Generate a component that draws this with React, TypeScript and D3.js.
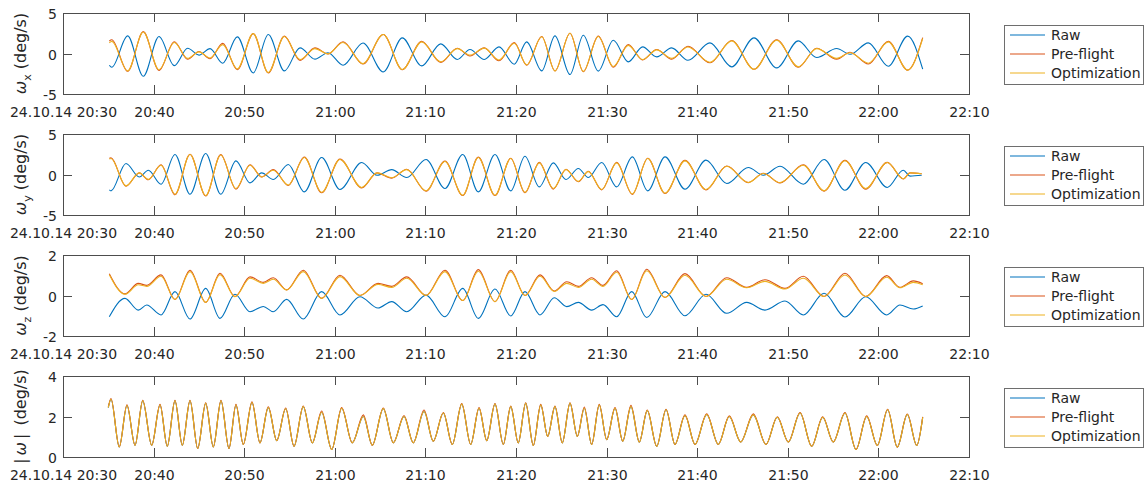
import React from 'react';
import * as d3 from 'd3';

// ---- time axis (minutes after 24.10.14 20:30) ----
const BASE = new Date(2014, 9, 24, 20, 30);
const toDate = (m: number) => new Date(BASE.getTime() + m * 60000);
const TICK_MINUTES = [0, 10, 20, 30, 40, 50, 60, 70, 80, 90, 100];
const FIRST_TICK_LABEL = '24.10.14 20:30';

const SERIES_NAMES = ['Raw', 'Pre-flight', 'Optimization'];
const SERIES_COLORS = ['#0072BD', '#D95319', '#EDB120'];

// ---- omega_x (extrema) ----
const WX_T = [5.11,5.38,7.14,8.86,10.60,12.28,13.76,15.01,16.23,17.63,19.24,21.00,22.66,24.43,26.16,27.81,29.25,30.91,33.11,35.35,37.45,39.59,41.69,43.52,44.92,46.50,48.12,49.81,51.18,52.84,54.30,55.96,57.43,59.08,60.74,62.39,63.98,65.53,67.18,68.98,71.41,73.81,76.27,78.77,81.16,83.19,85.40,86.87,88.89,91.09,93.23,94.89];
const WX_RAW = [-1.45,-1.7,2.17,-2.8,2.1,-1.5,0.65,-0.2,0.6,-1.2,2.05,-2.4,2.35,-2.15,0.7,-0.7,0.1,-1.45,1.3,-2.27,1.93,-1.53,1.19,-0.74,0.49,-0.74,0.82,-1.32,1.43,-2.15,2.17,-2.6,2.26,-2.18,1.64,-1.03,0.82,-0.42,0.7,-0.83,1.31,-1.65,1.93,-1.78,1.56,-0.5,0.62,-0.1,1.31,-1.57,2.14,-1.94];
const WX_PRE = [1.55,1.7,-2.2,2.7,-2.1,1.45,-0.7,0.25,-0.65,1.25,-2.0,2.45,-2.4,2.15,-0.85,0.7,-0.05,1.45,-1.3,2.35,-2.0,1.5,-1.1,0.65,-0.3,0.7,-0.9,1.35,-1.45,2.1,-2.15,2.5,-2.25,2.15,-1.7,1.1,-0.8,0.5,-0.7,0.9,-1.15,1.6,-1.95,1.7,-1.7,0.65,-0.7,0.15,-1.3,1.5,-2.05,1.95];
const WX_OPT = [1.3,1.5,-2.15,2.65,-2.0,1.35,-0.6,0.2,-0.55,1.1,-1.9,2.45,-2.35,2.1,-0.75,0.6,-0.05,1.35,-1.25,2.35,-1.98,1.43,-1.03,0.6,-0.2,0.66,-0.8,1.26,-1.4,2.06,-2.15,2.5,-2.2,2.1,-1.6,1.0,-0.75,0.45,-0.6,0.8,-1.1,1.56,-1.95,1.64,-1.65,0.6,-0.6,0.1,-1.2,1.43,-2.05,1.85];

// ---- omega_y ----
const WY_T = [5.11,5.30,6.95,8.42,9.42,10.82,12.36,14.02,15.75,17.41,19.09,20.64,21.93,23.21,24.87,26.63,28.55,30.57,32.97,34.66,36.28,37.94,40.07,42.16,44.12,45.84,47.68,49.42,50.99,52.57,54.12,55.52,56.88,57.98,59.46,61.11,62.84,64.54,66.45,68.65,70.97,73.26,75.64,77.30,79.14,81.71,84.00,86.31,88.60,90.98,92.75,93.49,94.78];
const WY_RAW = [-1.9,-2.02,1.36,-0.3,0.53,-1.2,2.47,-2.43,2.59,-2.43,1.68,-1.04,0.2,-0.62,1.23,-2.15,2.1,-1.85,1.48,-0.1,0.6,-0.37,1.85,-1.73,2.47,-2.15,2.47,-2.02,2.26,-1.53,1.44,-0.62,0.74,-0.37,1.48,-1.53,2.17,-2.02,2.17,-1.81,1.77,-1.11,0.86,-0.09,1.02,-1.2,1.85,-1.94,1.48,-1.6,0.53,-0.2,-0.1];
const WY_PRE = [2.0,2.05,-1.45,0.2,-0.65,1.2,-2.5,2.5,-2.65,2.45,-1.8,1.2,-0.3,0.6,-1.35,2.15,-2.25,1.9,-1.65,0.2,-0.45,0.65,-2.05,1.65,-2.6,2.15,-2.6,2.0,-2.25,1.5,-1.8,0.65,-0.9,0.4,-1.9,1.5,-2.45,2.0,-2.35,1.75,-1.9,1.05,-1.0,0.15,-1.05,1.2,-2.05,1.75,-1.8,1.5,-0.55,0.2,0.1];
const WY_OPT = [1.9,1.97,-1.4,0.2,-0.6,1.15,-2.43,2.47,-2.6,2.4,-1.73,1.15,-0.3,0.53,-1.3,2.1,-2.2,1.85,-1.6,0.2,-0.4,0.6,-2.0,1.6,-2.55,2.1,-2.55,1.97,-2.2,1.44,-1.73,0.6,-0.85,0.35,-1.85,1.44,-2.4,1.97,-2.3,1.68,-1.85,1.02,-0.99,0.12,-1.0,1.15,-2.0,1.7,-1.73,1.48,-0.53,0.2,0.1];

// ---- omega_z ----
const WZ_T = [5.11,6.84,8.31,9.24,10.82,12.36,14.02,15.75,17.33,18.98,20.64,22.11,23.21,24.69,26.52,28.55,30.57,32.78,34.77,36.28,37.94,40.07,42.16,44.12,45.84,47.68,49.42,50.99,52.65,54.23,55.60,56.88,58.35,59.60,61.11,62.77,64.43,66.45,68.65,70.97,73.26,75.46,77.48,79.69,81.71,84.00,86.31,88.60,90.92,92.38,93.85,94.89];
const WZ_RAW = [-1.05,-0.14,-0.72,-0.47,-0.96,0.19,-1.16,0.35,-1.13,0.06,-0.8,-0.54,-0.8,-0.19,-1.16,0.19,-0.96,-0.06,-0.62,-0.3,-0.8,0.02,-1.05,0.35,-1.13,0.32,-1.01,0.19,-0.96,-0.11,-0.55,-0.34,-0.72,-0.45,-1.05,0.19,-1.09,0.19,-1.0,0.06,-0.88,-0.34,-0.72,-0.27,-0.96,0.11,-1.06,-0.06,-0.96,-0.47,-0.67,-0.52];
const WZ_PRE = [1.08,0.08,0.6,0.5,1.02,-0.2,1.25,-0.34,1.1,-0.05,0.92,0.65,0.88,0.28,1.25,-0.14,1.0,0.0,0.6,0.45,0.92,0.0,1.25,-0.25,1.28,-0.3,1.25,0.0,1.02,0.22,0.68,0.45,0.88,0.5,1.22,-0.2,1.3,-0.1,1.08,-0.05,0.88,0.4,0.78,0.35,0.95,-0.05,1.1,-0.05,0.98,0.4,0.72,0.58];
const WZ_OPT = [1.03,0.06,0.53,0.45,0.95,-0.2,1.18,-0.34,1.03,-0.06,0.85,0.6,0.8,0.27,1.18,-0.14,0.93,0.0,0.55,0.4,0.85,0.0,1.18,-0.25,1.2,-0.3,1.18,0.0,0.95,0.2,0.6,0.4,0.8,0.45,1.15,-0.2,1.22,-0.1,1.0,-0.05,0.8,0.38,0.7,0.32,0.85,-0.05,1.01,-0.05,0.9,0.38,0.65,0.53];

// ---- |omega| ----
const WM_T = [5.00,5.30,6.21,7.06,7.95,8.80,9.79,10.71,11.51,12.36,13.17,14.02,14.87,15.75,16.59,17.44,18.32,19.09,19.90,20.86,21.74,22.66,23.59,24.58,25.50,26.52,27.52,28.55,29.66,30.76,31.93,33.15,34.14,35.35,36.46,37.64,38.66,39.85,40.87,41.98,42.97,44.01,45.00,45.92,46.77,47.68,48.60,49.42,50.25,51.07,51.91,52.73,53.50,54.30,55.11,55.96,56.77,57.54,58.35,59.19,60.01,60.93,61.78,62.69,63.61,64.49,65.53,66.56,67.55,68.65,69.76,71.05,72.33,73.54,74.80,76.19,77.59,78.84,80.06,81.35,82.64,83.85,85.02,86.31,87.53,88.71,89.88,91.02,92.08,93.19,94.23,94.89];
const WM_RAW = [2.44,2.85,0.5,2.54,0.58,2.77,0.58,2.57,0.53,2.77,0.58,2.77,0.42,2.65,0.5,2.77,0.42,2.57,0.62,2.69,0.7,2.44,0.81,2.38,0.53,2.49,0.7,2.21,0.37,2.41,0.7,2.0,0.58,2.39,0.7,2.0,0.7,2.25,0.78,2.17,0.62,2.61,0.62,2.41,0.81,2.61,0.62,2.49,0.7,2.65,0.57,2.57,1.02,2.49,0.7,2.65,1.02,2.41,0.62,2.57,0.86,2.41,0.78,2.49,0.74,2.29,0.53,2.33,0.62,2.05,0.62,2.1,0.62,2.0,0.74,2.08,0.62,1.96,0.74,2.17,0.53,1.96,0.74,2.17,0.37,2.0,0.57,2.33,0.49,2.1,0.57,1.96];
const WM_PRE = [2.47,2.89,0.5,2.58,0.58,2.8,0.58,2.6,0.53,2.8,0.58,2.8,0.42,2.68,0.5,2.8,0.42,2.6,0.62,2.72,0.7,2.48,0.81,2.42,0.53,2.52,0.7,2.27,0.37,2.44,0.7,2.08,0.58,2.42,0.7,2.05,0.7,2.32,0.78,2.2,0.62,2.64,0.62,2.44,0.81,2.64,0.62,2.52,0.7,2.68,0.57,2.6,1.02,2.52,0.7,2.68,1.02,2.47,0.62,2.6,0.86,2.44,0.78,2.55,0.74,2.32,0.53,2.36,0.62,2.08,0.62,2.13,0.62,2.03,0.74,2.13,0.62,1.99,0.74,2.2,0.53,1.99,0.74,2.2,0.37,2.03,0.57,2.36,0.49,2.12,0.57,1.98];
const WM_OPT = [2.44,2.85,0.5,2.54,0.58,2.77,0.58,2.57,0.53,2.77,0.58,2.77,0.42,2.65,0.5,2.77,0.42,2.57,0.62,2.69,0.7,2.44,0.81,2.38,0.53,2.49,0.7,2.21,0.37,2.41,0.7,2.0,0.58,2.39,0.7,2.0,0.7,2.25,0.78,2.17,0.62,2.61,0.62,2.41,0.81,2.61,0.62,2.49,0.7,2.65,0.57,2.57,1.02,2.49,0.7,2.65,1.02,2.41,0.62,2.57,0.86,2.41,0.78,2.49,0.74,2.29,0.53,2.33,0.62,2.05,0.62,2.1,0.62,2.0,0.74,2.08,0.62,1.96,0.74,2.17,0.53,1.96,0.74,2.17,0.37,2.0,0.57,2.33,0.49,2.1,0.57,1.96];

const Y_DOMAINS: [number, number][] = [[-5, 5], [-5, 5], [-2, 2], [0, 4]];
const Y_TICKS = [[-5, 0, 5], [-5, 0, 5], [-2, 0, 2], [0, 2, 4]];
const SUBSCRIPTS = ['x', 'y', 'z', ''];

const W = 1145;
const H = 487;
const LEFT = 63;
const RIGHT = 969;
const TOPS = [13, 134, 255, 376];
const PH = 81;
const FONT = '"DejaVu Sans", sans-serif';
const TEXT = '#262626';
const AXIS = '#4d4d4d';

export default function App() {
  const x = d3.scaleTime().domain([toDate(0), toDate(100)]).range([LEFT, RIGHT]);
  const panels = [
    { t: WX_T, s: [WX_RAW, WX_PRE, WX_OPT] },
    { t: WY_T, s: [WY_RAW, WY_PRE, WY_OPT] },
    { t: WZ_T, s: [WZ_RAW, WZ_PRE, WZ_OPT] },
    { t: WM_T, s: [WM_RAW, WM_PRE, WM_OPT] },
  ];
  const tickLen = 9;

  return (
    <svg width={W} height={H} style={{ position: 'absolute', left: 0, top: 0, background: '#fff' }} fontFamily={FONT}>
      <rect x={0} y={0} width={W} height={H} fill="#fff" />
      {panels.map((p, i) => {
        const top = TOPS[i];
        const bottom = top + PH;
        const y = d3.scaleLinear().domain(Y_DOMAINS[i]).range([bottom, top]);
        const line = d3
          .line<number>()
          .x((_, k) => x(toDate(p.t[k])))
          .y((v) => y(v))
          .curve(d3.curveMonotoneX);
        const cy = (top + bottom) / 2;
        const legTop = top + 12;
        return (
          <g key={i}>
            <defs>
              <clipPath id={`clip${i}`}>
                <rect x={LEFT} y={top} width={RIGHT - LEFT} height={PH} />
              </clipPath>
            </defs>
            <g clipPath={`url(#clip${i})`}>
              {p.s.map((vals, k) => (
                <path key={k} d={line(vals) || ''} fill="none" stroke={SERIES_COLORS[k]} strokeWidth={1.1} />
              ))}
            </g>
            {/* box */}
            <rect x={LEFT + 0.5} y={top + 0.5} width={RIGHT - LEFT} height={PH} fill="none" stroke={AXIS} strokeWidth={1} />
            {/* x ticks */}
            {TICK_MINUTES.map((m, k) => {
              const xx = Math.round(x(toDate(m))) + 0.5;
              return (
                <g key={k}>
                  <line x1={xx} x2={xx} y1={bottom} y2={bottom - tickLen} stroke={AXIS} />
                  <line x1={xx} x2={xx} y1={top} y2={top + tickLen} stroke={AXIS} />
                  <text x={xx} y={bottom + 23} textAnchor="middle" fontSize={14} fill={TEXT}>
                    {k === 0 ? FIRST_TICK_LABEL : d3.timeFormat('%H:%M')(toDate(m))}
                  </text>
                </g>
              );
            })}
            {/* y ticks */}
            {Y_TICKS[i].map((v, k) => {
              const yy = Math.round(y(v)) + 0.5;
              return (
                <g key={k}>
                  <line x1={LEFT} x2={LEFT + tickLen} y1={yy} y2={yy} stroke={AXIS} />
                  <line x1={RIGHT} x2={RIGHT - tickLen} y1={yy} y2={yy} stroke={AXIS} />
                  <text x={57} y={yy} dy="0.36em" textAnchor="end" fontSize={14} fill={TEXT}>
                    {v}
                  </text>
                </g>
              );
            })}
            {/* y label */}
            <text transform={`translate(26,${cy}) rotate(-90)`} textAnchor="middle" fontSize={16} fill={TEXT}>
              {i < 3 ? (
                <>
                  <tspan fontStyle="italic">ω</tspan>
                  <tspan fontSize={11} dy={5}>{SUBSCRIPTS[i]}</tspan>
                  <tspan dy={-5}>{' (deg/s)'}</tspan>
                </>
              ) : (
                <>
                  <tspan>|</tspan>
                  <tspan fontStyle="italic" dx={3}>ω</tspan>
                  <tspan dx={3}>|</tspan>
                  <tspan dx={8}>(deg/s)</tspan>
                </>
              )}
            </text>
            {/* legend */}
            <rect x={1004.5} y={legTop + 0.5} width={139} height={59} fill="#fff" stroke="#6e6e6e" />
            {SERIES_NAMES.map((n, k) => {
              const ly = legTop + 10 + k * 19;
              return (
                <g key={k}>
                  <line x1={1010} x2={1045} y1={ly} y2={ly} stroke={SERIES_COLORS[k]} strokeWidth={1.1} />
                  <text x={1051} y={ly} dy="0.36em" fontSize={14} fill={TEXT}>
                    {n}
                  </text>
                </g>
              );
            })}
          </g>
        );
      })}
    </svg>
  );
}
